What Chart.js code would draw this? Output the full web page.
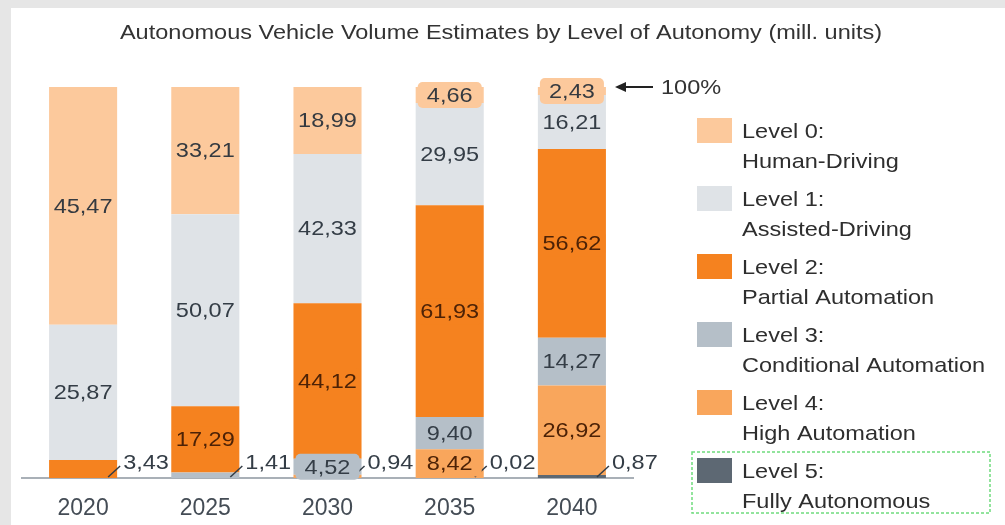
<!DOCTYPE html>
<html>
<head>
<meta charset="utf-8">
<script src="https://cdn.jsdelivr.net/npm/chart.js@4.4.1/dist/chart.umd.min.js"></script>
<style>
html, body { margin: 0; padding: 0; background: #e6e6e6; }
canvas { display: block; }
</style>
</head>
<body>
<canvas id="chart" width="1005" height="525"></canvas>
<script>
// data (mill. units)
const years = ['2020', '2025', '2030', '2035', '2040'];
const level0 = [45.47, 33.21, 18.99, 4.66, 2.43];
const level1 = [25.87, 50.07, 42.33, 29.95, 16.21];
const level2 = [3.43, 17.29, 44.12, 61.93, 56.62];
const level3 = [0, 1.41, 4.52, 9.40, 14.27];
const level4 = [0, 0, 0.94, 8.42, 26.92];
const level5 = [0, 0, 0, 0.02, 0.87];
const levelNames = [
    ['Level 0:', 'Human-Driving'],
    ['Level 1:', 'Assisted-Driving'],
    ['Level 2:', 'Partial Automation'],
    ['Level 3:', 'Conditional Automation'],
    ['Level 4:', 'High Automation'],
    ['Level 5:', 'Fully Autonomous']
];
const title = 'Autonomous Vehicle Volume Estimates by Level of Autonomy (mill. units)';

const levels = [level0, level1, level2, level3, level4, level5];
const levelColors = ['#fcc99c', '#dfe3e7', '#f5821f', '#b5bfc8', '#f9a65c', '#5d6873'];
const labelColors = ['#353a40', '#343d46', '#4d2206', '#343d46', '#4d2206', '#343d46'];
const FONT = '"Liberation Sans", Arial, sans-serif';
const SX = 1.12; // the reference text is a bit wide

const totals = years.map((_, i) => levels.reduce((s, l) => s + l[i], 0));
const fmt = v => v.toFixed(2).replace('.', ',');

// stacked bottom-up: level 5 first
const datasets = levels.map((vals, k) => ({
    label: levelNames[k].join(' '),
    raw: vals,
    level: k,
    data: vals.map((v, i) => v / totals[i] * 100),
    backgroundColor: levelColors[k],
    borderWidth: 0,
    barPercentage: 0.557,
    categoryPercentage: 1
})).reverse();

function wideText(ctx, txt, x, y, align) {
    ctx.save();
    ctx.translate(x, y);
    ctx.scale(SX, 1);
    ctx.textAlign = align;
    ctx.fillText(txt, 0, 0);
    ctx.restore();
}

const background = {
    id: 'background',
    beforeDraw(chart) {
        const ctx = chart.ctx;
        ctx.save();
        ctx.fillStyle = '#e6e6e6';
        ctx.fillRect(0, 0, chart.width, chart.height);
        ctx.fillStyle = '#ffffff';
        ctx.fillRect(11, 8, chart.width - 11, chart.height - 8);
        ctx.restore();
    }
};

const segLabels = {
    id: 'segLabels',
    afterDatasetsDraw(chart) {
        const ctx = chart.ctx;
        const base = chart.scales.y.getPixelForValue(0);
        ctx.save();
        ctx.font = '21px ' + FONT;
        ctx.textBaseline = 'middle';
        years.forEach((y, i) => {
            // bottom-most segment gets a callout
            let first = -1;
            chart.data.datasets.forEach((ds, d) => { if (first < 0 && ds.raw[i] > 0) first = d; });
            chart.data.datasets.forEach((ds, d) => {
                const v = ds.raw[i];
                if (!v) return;
                const bar = chart.getDatasetMeta(d).data[i];
                const txt = fmt(v);
                if (d === first) {
                    const right = bar.x + bar.width / 2;
                    ctx.strokeStyle = '#343d46';
                    ctx.lineWidth = 1.5;
                    ctx.beginPath();
                    ctx.moveTo(right - 9, base - 1);
                    ctx.lineTo(right + 3, base - 12);
                    ctx.stroke();
                    ctx.fillStyle = '#343d46';
                    wideText(ctx, txt, right + 6, base - 15, 'left');
                } else {
                    const cy = (bar.y + bar.base) / 2;
                    const w = Math.max(ctx.measureText(txt).width * SX + 8, bar.width - 4);
                    ctx.fillStyle = ds.backgroundColor;
                    ctx.beginPath();
                    ctx.roundRect(bar.x - w / 2, cy - 13, w, 26, 5);
                    ctx.fill();
                    ctx.fillStyle = labelColors[ds.level];
                    wideText(ctx, txt, bar.x, cy + 1, 'center');
                }
            });
        });
        ctx.restore();
    }
};

const extras = {
    id: 'extras',
    afterDraw(chart) {
        const ctx = chart.ctx;
        const area = chart.chartArea;
        ctx.save();
        ctx.textBaseline = 'middle';
        // title
        ctx.font = '21px ' + FONT;
        ctx.fillStyle = '#333';
        wideText(ctx, title, 501, 33, 'center');

        // 100% marker
        const y100 = chart.scales.y.getPixelForValue(100);
        const ax = area.right - 18;
        ctx.strokeStyle = '#222';
        ctx.fillStyle = '#222';
        ctx.lineWidth = 2;
        ctx.beginPath();
        ctx.moveTo(ax + 8, y100);
        ctx.lineTo(ax + 38, y100);
        ctx.stroke();
        ctx.beginPath();
        ctx.moveTo(ax, y100);
        ctx.lineTo(ax + 11, y100 - 5);
        ctx.lineTo(ax + 11, y100 + 5);
        ctx.closePath();
        ctx.fill();
        ctx.fillStyle = '#333';
        wideText(ctx, '100%', ax + 46, y100 + 1, 'left');

        // legend
        const lx = area.right + 64;
        levelNames.forEach((lines, k) => {
            const top = 118 + k * 68;
            ctx.fillStyle = levelColors[k];
            ctx.fillRect(lx, top, 35, 25);
            ctx.fillStyle = '#2e2e2e';
            wideText(ctx, lines[0], lx + 45, top + 14, 'left');
            wideText(ctx, lines[1], lx + 45, top + 44, 'left');
        });
        ctx.strokeStyle = '#6fdc7e';
        ctx.lineWidth = 1.5;
        ctx.setLineDash([3, 2]);
        ctx.strokeRect(lx - 5, 452, 298, 61);
        ctx.restore();
    }
};

new Chart(document.getElementById('chart'), {
    type: 'bar',
    data: { labels: years, datasets: datasets },
    options: {
        responsive: false,
        animation: false,
        devicePixelRatio: 1,
        layout: { padding: { left: 22, right: 22, top: 87, bottom: 0 } },
        plugins: {
            legend: { display: false },
            tooltip: { enabled: false },
            title: { display: false }
        },
        scales: {
            x: {
                stacked: true,
                grid: { display: false },
                border: { display: true, color: '#a9b0b7', width: 2 },
                ticks: { color: '#444c55', font: { size: 23, family: FONT }, padding: 9 },
                afterFit: s => { s.height = 47; }
            },
            y: {
                stacked: true,
                position: 'right',
                min: 0,
                max: 100,
                grid: { display: false },
                border: { display: false },
                ticks: { display: false },
                afterFit: s => { s.width = 350; }
            }
        }
    },
    plugins: [background, segLabels, extras]
});
</script>
</body>
</html>
